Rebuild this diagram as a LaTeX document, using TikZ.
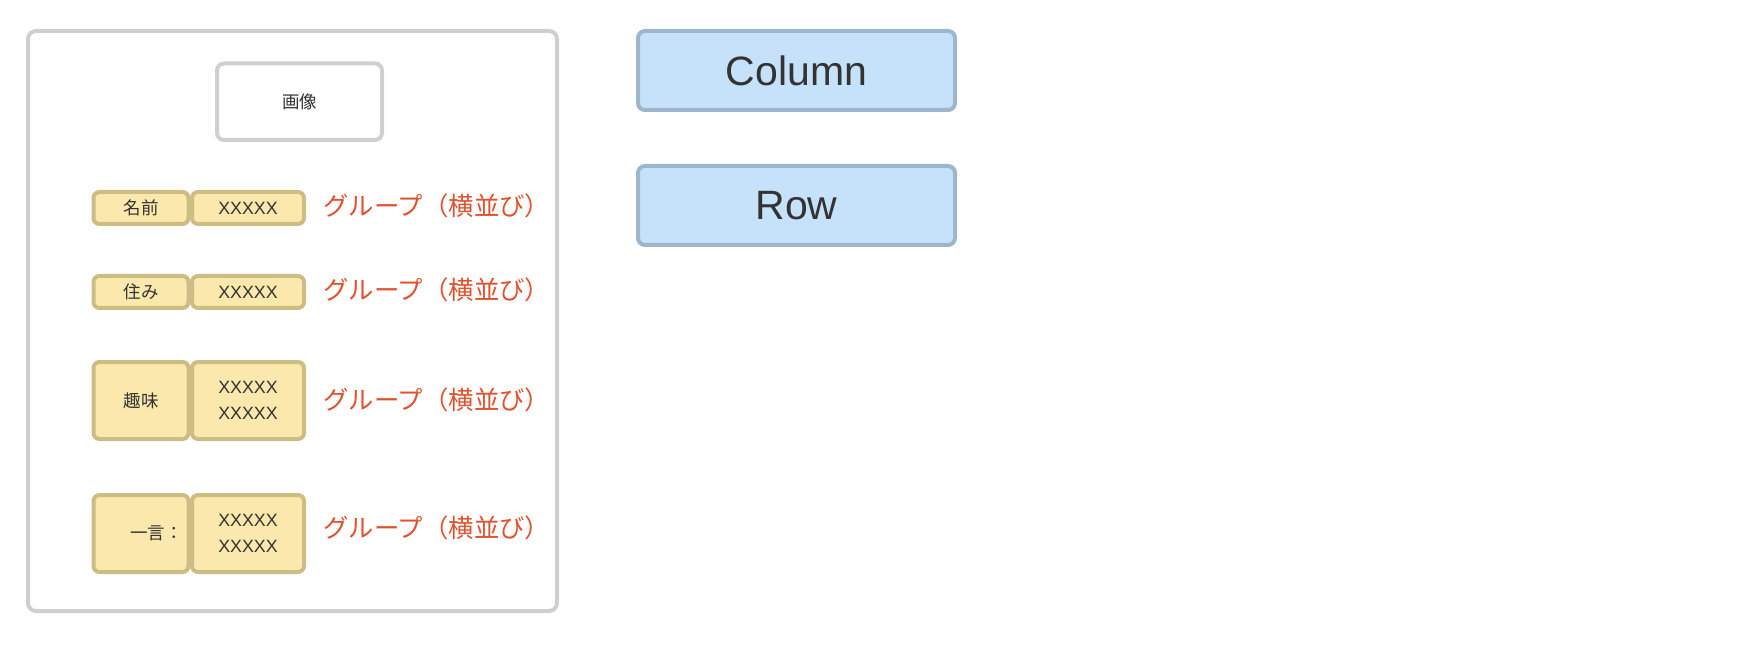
\documentclass[tikz,border=0pt]{standalone}
\usepackage{fontspec}
\setmainfont{Liberation Sans}
\newfontfamily\jp{Noto Sans CJK JP}
\definecolor{framegray}{HTML}{CFCFCF}
\definecolor{cellfill}{HTML}{FBE8AD}
\definecolor{celledge}{HTML}{CDBC84}
\definecolor{bluefill}{HTML}{C6E2FA}
\definecolor{blueedge}{HTML}{9EB6CC}
\definecolor{txt}{HTML}{333333}
\definecolor{redtxt}{HTML}{E2512F}
\tikzset{
  cell/.style={draw=celledge, fill=cellfill, line width=4pt, rounded corners=6pt,
    inner sep=0pt, text=txt, font=\jp\fontsize{17.5}{26.5}\selectfont, align=center},
  xcell/.style={cell, font=\fontsize{17.8}{26.5}\selectfont},
  imgbox/.style={draw=framegray, fill=white, line width=4pt, rounded corners=7pt,
    inner sep=0pt, text=txt, font=\jp\fontsize{17.5}{21}\selectfont},
  bluebox/.style={draw=blueedge, fill=bluefill, line width=4pt, rounded corners=7pt,
    inner sep=0pt, text=txt, font=\fontsize{41}{48}\selectfont},
  grp/.style={anchor=west, inner sep=0pt, text=redtxt, font=\jp\fontsize{25.4}{30}\selectfont},
  lbl/.style={inner sep=0pt, text=txt, font=\jp\fontsize{17.5}{21}\selectfont}
}
\begin{document}
\begin{tikzpicture}[x=1pt,y=-1pt]
\useasboundingbox (0,0) rectangle (1754,652);
% outer frame
\draw[framegray, line width=4pt, rounded corners=8pt] (28,31) rectangle (557,611);
% image box
\node[imgbox, minimum width=165pt, minimum height=76.5pt] (img) at (299.5,101.75) {画像};
% row 1
\node[cell, minimum width=95pt, minimum height=32pt] (l1) at (141,208) {名前};
\node[xcell, minimum width=112pt, minimum height=32pt] (r1) at (248,208) {XXXXX};
\node[grp] (g1) at (323,206) {グループ（横並び）};
% row 2
\node[cell, minimum width=95pt, minimum height=32pt] (l2) at (141,292) {住み};
\node[xcell, minimum width=112pt, minimum height=32pt] (r2) at (248,292) {XXXXX};
\node[grp] (g2) at (323,290) {グループ（横並び）};
% row 3
\node[cell, minimum width=95pt, minimum height=77pt] (l3) at (141,400.5) {趣味};
\node[xcell, minimum width=112pt, minimum height=77pt] (r3) at (248,400.5) {XXXXX\\XXXXX};
\node[grp] (g3) at (323,400) {グループ（横並び）};
% row 4
\node[cell, minimum width=95pt, minimum height=77pt] (l4) at (141,533.5) {};
\node[lbl, anchor=east] (t4) at (183,533) {一言：};
\node[xcell, minimum width=112pt, minimum height=77pt] (r4) at (248,533.5) {XXXXX\\XXXXX};
\node[grp] (g4) at (323,528) {グループ（横並び）};
% legend
\node[bluebox, minimum width=317pt, minimum height=79pt] (col) at (796.5,70.5) {Column};
\node[bluebox, minimum width=317pt, minimum height=79pt] (row) at (796.5,205.5) {Row};
\end{tikzpicture}
\end{document}
